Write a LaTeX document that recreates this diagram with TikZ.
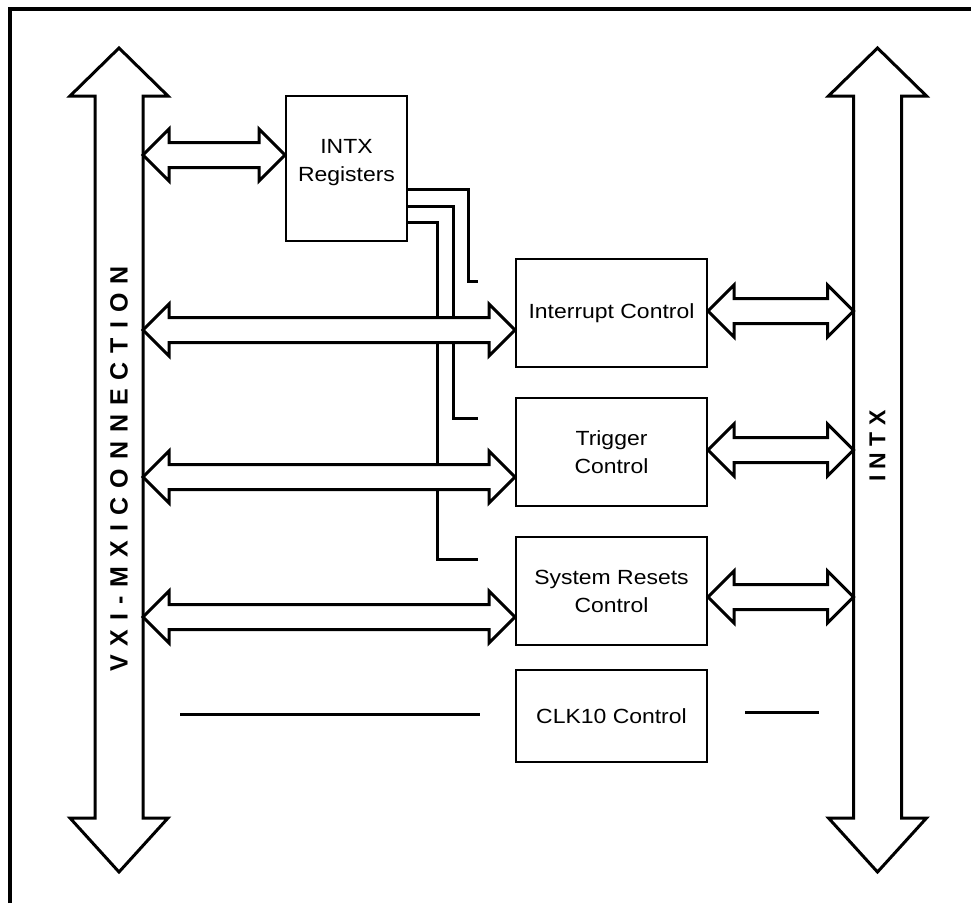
\documentclass[tikz,border=0pt]{standalone}
\usepackage{fontspec}
\setmainfont{Liberation Sans}
\newfontfamily\boxfont[FakeStretch=1.12]{Liberation Sans}
\newfontfamily\busfont[WordSpace=1.3]{Liberation Sans}
\usetikzlibrary{calc}

\tikzset{
  blockbox/.style={draw, line width=2pt, minimum width=191pt, minimum height=108pt,
    inner sep=0pt, align=center, font=\boxfont\fontsize{20.5}{28}\selectfont},
  busline/.style={draw, line width=3pt, fill=white},
  wire/.style={line width=3pt},
  buslabel/.style={rotate=90, font=\busfont\bfseries\fontsize{25}{25}\selectfont},
}

% fat double arrow: from, to, shift down
\newcommand{\fatarrow}[3]{%
  \draw[busline] let \p1=($(#1)+(0,#3)$), \p2=(#2) in
    (\x1,\y1) -- (\x1+26pt,\y1+26pt) -- (\x1+26pt,\y1+12.5pt)
    -- (\x2-26pt,\y1+12.5pt) -- (\x2-26pt,\y1+26pt) -- (\x2,\y1)
    -- (\x2-26pt,\y1-26pt) -- (\x2-26pt,\y1-12.5pt)
    -- (\x1+26pt,\y1-12.5pt) -- (\x1+26pt,\y1-26pt) -- cycle;}

\begin{document}
\begin{tikzpicture}[x=1pt,y=-1pt]
\useasboundingbox (0,0) rectangle (971,903);
\draw[line width=4pt] (10,903) -- (10,9) -- (971,9);

% buses
\foreach \cx in {119,877.5}
  \draw[busline] (\cx,48) -- (\cx+49,96) -- (\cx+24,96) -- (\cx+24,818) -- (\cx+49,818)
    -- (\cx,872) -- (\cx-49,818) -- (\cx-24,818) -- (\cx-24,96) -- (\cx-49,96) -- cycle;
\coordinate (vxi) at (143,0);
\coordinate (intx) at (853.5,0);
\node[buslabel] (vxilabel) at (119,469) {V X I - M X I C O N N E C T I O N};
\node[buslabel, font=\bfseries\fontsize{23}{23}\selectfont] (intxlabel) at (877.5,446) {I N T X};

% blocks
\node[blockbox, minimum width=121pt, minimum height=145pt, text depth=16pt] (regs) at (346.5,168.5) {INTX\\Registers};
\node[blockbox] (int) at (611.5,313) {Interrupt Control};
\node[blockbox] (trig) at (611.5,452) {Trigger\\Control};
\node[blockbox] (sys) at (611.5,591) {System Resets\\Control};
\node[blockbox, minimum height=92pt] (clk) at (611.5,716) {CLK10 Control};

% register wires
\coordinate (intwire) at ($(int.north west)+(-37,23)$);
\coordinate (trigwire) at ($(trig.north west)+(-37,21)$);
\coordinate (syswire) at ($(sys.north west)+(-37,23)$);
\draw[wire] ($(regs.east)+(0,20.5)$) -| ($(intwire)+(-10,0)$) -- (intwire);
\draw[wire] ($(regs.east)+(0,37.5)$) -| ($(trigwire)+(-25,0)$) -- (trigwire);
\draw[wire] ($(regs.east)+(0,53.5)$) -| ($(syswire)+(-41,0)$) -- (syswire);

% clock lines
\coordinate (clkl1) at ($(clk.west)+(-335,-2)$);
\coordinate (clkl2) at ($(clk.west)+(-35,-2)$);
\coordinate (clkr1) at ($(clk.east)+(37,-4)$);
\coordinate (clkr2) at ($(clk.east)+(111,-4)$);
\draw[wire] (clkl1) -- (clkl2);
\draw[wire] (clkr1) -- (clkr2);

% bus arrows
\fatarrow{vxi |- regs.west}{regs.west}{-13.5}
\fatarrow{vxi |- int.west}{int.west}{17}
\fatarrow{vxi |- trig.west}{trig.west}{25}
\fatarrow{vxi |- sys.west}{sys.west}{26}
\fatarrow{int.east}{intx |- int.east}{-2}
\fatarrow{trig.east}{intx |- trig.east}{-2}
\fatarrow{sys.east}{intx |- sys.east}{6}
\end{tikzpicture}
\end{document}
